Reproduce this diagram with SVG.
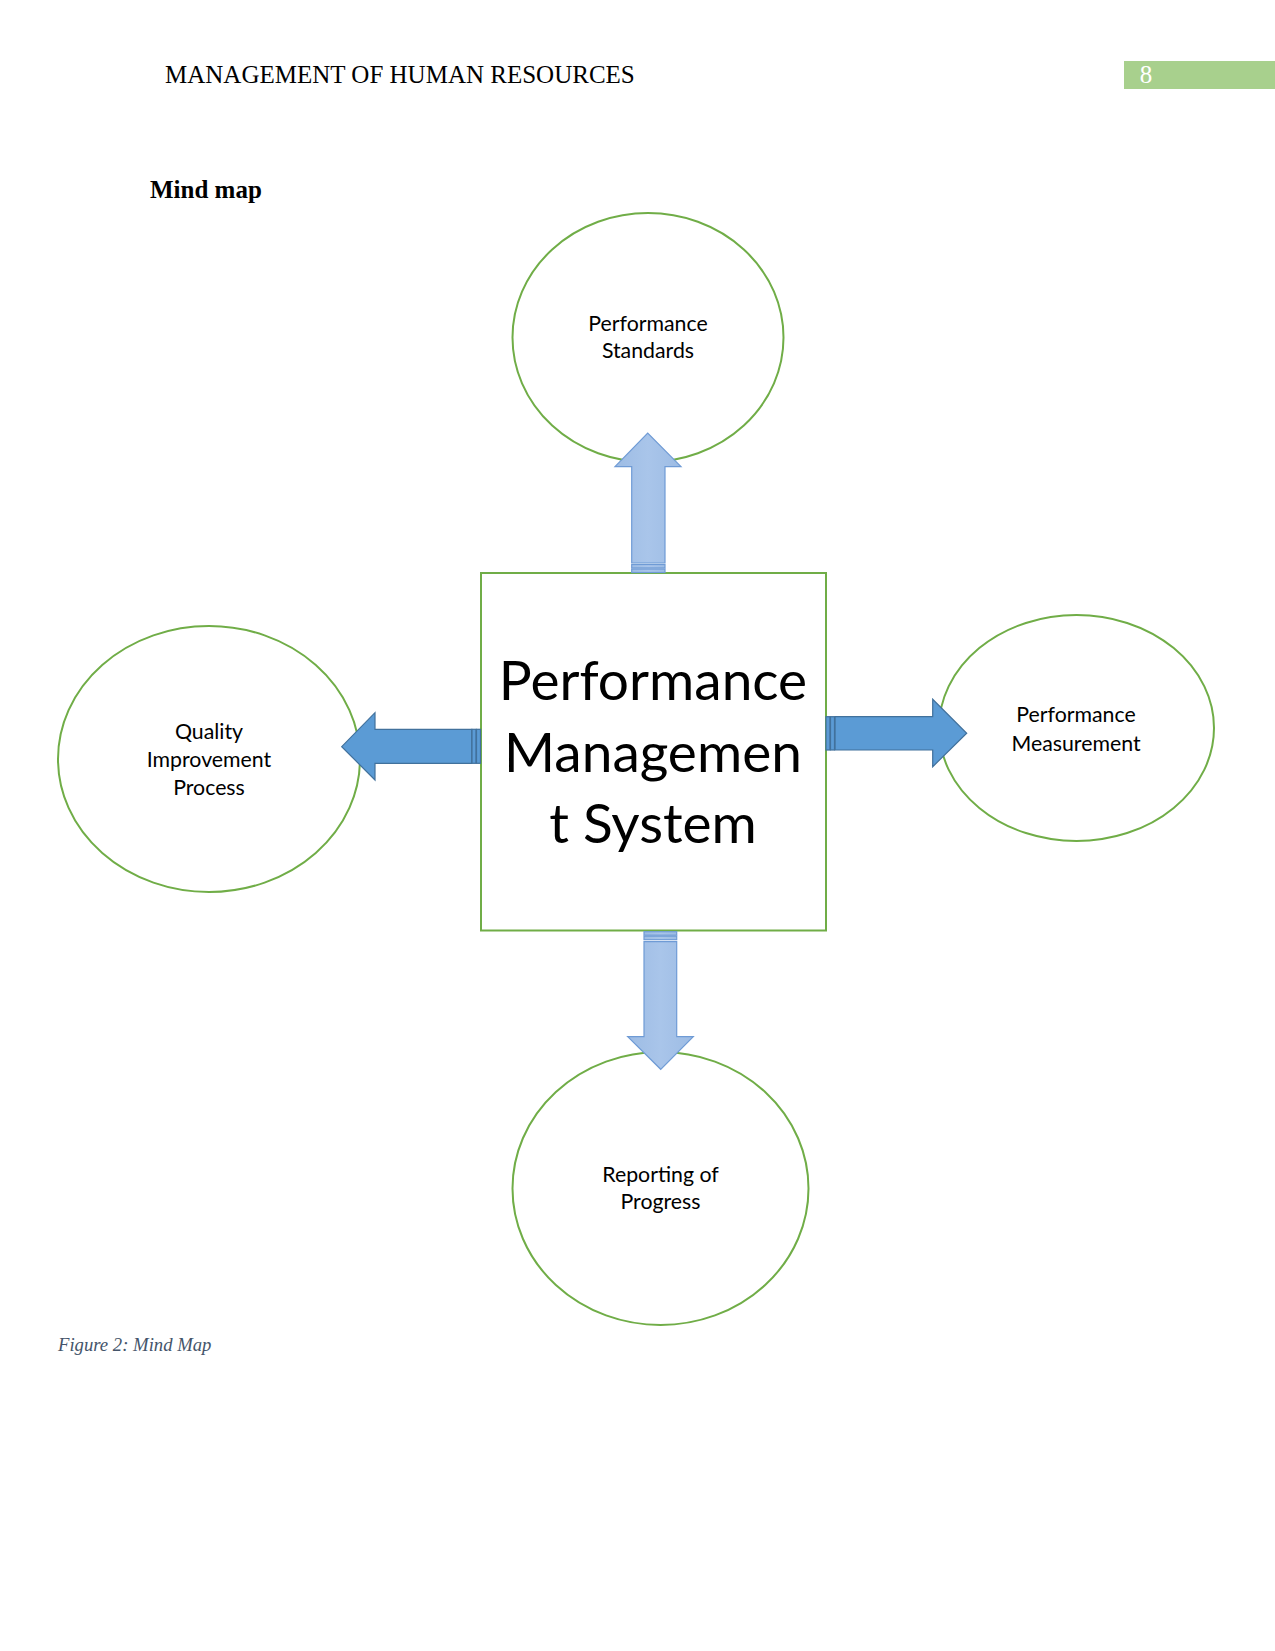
<svg xmlns="http://www.w3.org/2000/svg" width="1275" height="1651" viewBox="0 0 1275 1651">
<defs>
<style>
.serif{font-family:"Liberation Serif","Times New Roman",serif;}
.node{fill:#fff;stroke:#70AD47;stroke-width:2;}
.lbl{font-family:Lato,"Open Sans",sans-serif;font-size:21.3px;fill:#000;text-anchor:middle;}
.big{font-family:Lato,"Open Sans",sans-serif;font-size:55px;fill:#000;text-anchor:middle;}
.varrow{fill:url(#gv);stroke:#6F9BD5;stroke-width:1.2;}
.harrow{fill:#5B9BD5;stroke:#41719C;stroke-width:1.2;}
</style>
<linearGradient id="gv" x1="0" y1="0" x2="1" y2="0">
<stop offset="0" stop-color="#9DBCE4"/>
<stop offset="0.5" stop-color="#A9C5EA"/>
<stop offset="1" stop-color="#9DBCE4"/>
</linearGradient>
</defs>
<rect width="1275" height="1651" fill="#fff"/>
<g id="header">
<text class="serif" x="165" y="83" font-size="25">MANAGEMENT OF HUMAN RESOURCES</text>
<rect x="1124" y="61" width="151" height="28" fill="#A8D08D"/>
<text class="serif" x="1146" y="83" font-size="25" fill="#fff" text-anchor="middle">8</text>
<text class="serif" x="150" y="198" font-size="25" font-weight="bold">Mind map</text>
</g>
<g id="node-standards">
<ellipse class="node" cx="648" cy="337.5" rx="135.5" ry="124.5"/>
<text class="lbl" x="648" y="330.5">Performance</text>
<text class="lbl" x="648" y="358">Standards</text>
</g>
<g id="node-measurement">
<ellipse class="node" cx="1076.5" cy="728" rx="137.5" ry="113"/>
<text class="lbl" x="1076" y="722">Performance</text>
<text class="lbl" x="1076" y="750.5">Measurement</text>
</g>
<g id="node-quality">
<ellipse class="node" cx="209" cy="759" rx="151" ry="133"/>
<text class="lbl" x="209" y="739">Quality</text>
<text class="lbl" x="209" y="766.5">Improvement</text>
<text class="lbl" x="209" y="794.5">Process</text>
</g>
<g id="node-reporting">
<ellipse class="node" cx="660.5" cy="1188.5" rx="148" ry="136.5"/>
<text class="lbl" x="660.5" y="1181.5">Reporting of</text>
<text class="lbl" x="660.5" y="1208.5">Progress</text>
</g>
<g id="node-center">
<rect class="node" x="481" y="573" width="345" height="357.5"/>
<text class="big" x="653" y="700">Performance</text>
<text class="big" x="653" y="771.5">Managemen</text>
<text class="big" x="653" y="843">t System</text>
</g>
<g id="connectors">
<path class="varrow" d="M631.7,563 L631.7,466.7 L615,466.7 L647.7,433 L681,466.7 L665,466.7 L665,563 Z"/>
<rect class="varrow" x="631.7" y="564.5" width="33.3" height="3.5"/>
<rect class="varrow" x="631.7" y="569" width="33.3" height="3.5"/>
<path class="varrow" d="M644,941.7 L644,1036.7 L627.7,1036.7 L660.7,1069.3 L693.3,1036.7 L676.7,1036.7 L676.7,941.7 Z"/>
<rect class="varrow" x="644" y="931.7" width="32.7" height="3.5"/>
<rect class="varrow" x="644" y="936.2" width="32.7" height="3.5"/>
<path class="harrow" d="M835,716.7 L932.7,716.7 L932.7,699.3 L966.7,733.3 L932.7,766.7 L932.7,750 L835,750 Z"/>
<rect class="harrow" x="826" y="716.7" width="4" height="33.3"/>
<rect class="harrow" x="830.5" y="716.7" width="4" height="33.3"/>
<path class="harrow" d="M471.7,729.3 L375,729.3 L375,712.7 L341.7,746.7 L375,780 L375,763.3 L471.7,763.3 Z"/>
<rect class="harrow" x="472" y="729.3" width="4" height="34"/>
<rect class="harrow" x="476.5" y="729.3" width="4" height="34"/>
</g>
<text class="serif" x="58" y="1351" font-size="18.7" font-style="italic" fill="#44546A">Figure 2: Mind Map</text>
</svg>
